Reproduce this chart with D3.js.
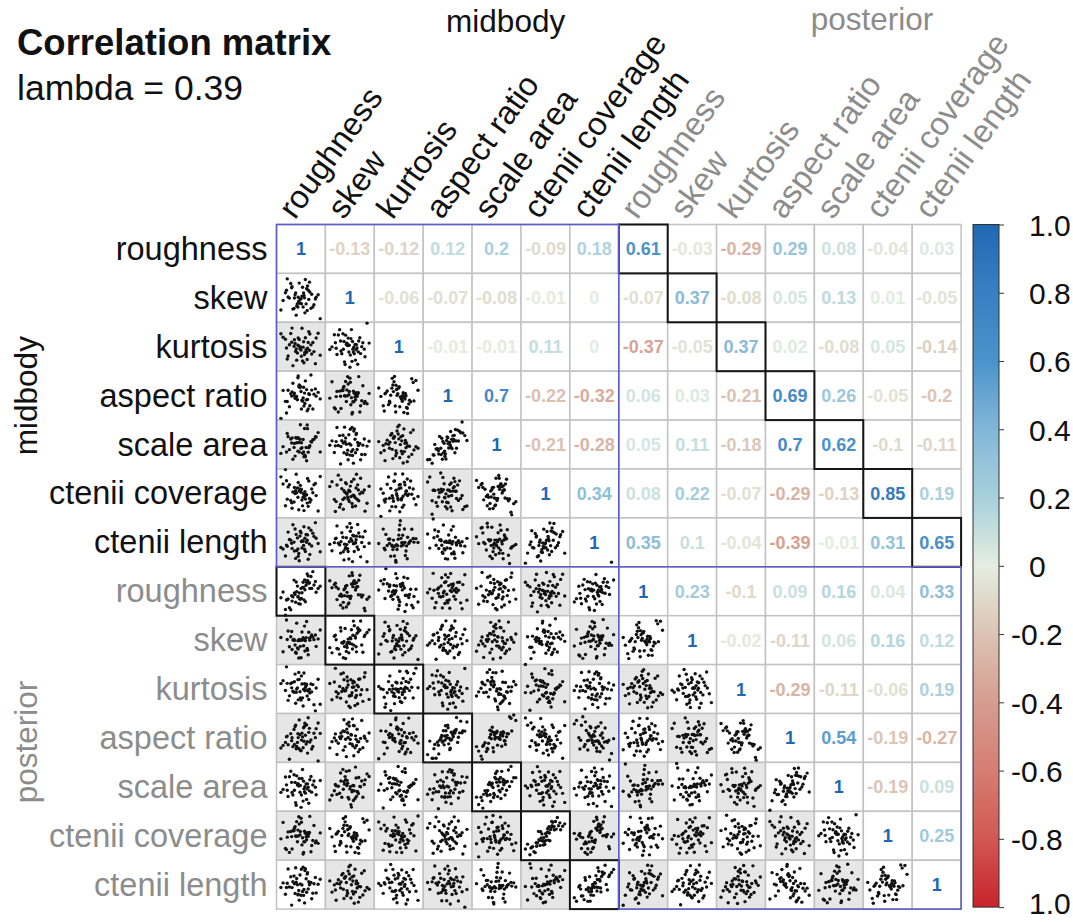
<!DOCTYPE html>
<html><head><meta charset="utf-8">
<script src="https://cdn.jsdelivr.net/npm/d3@7"></script>
<style>body{margin:0;background:#fff;} svg text{font-family:"Liberation Sans",Arial,Helvetica,sans-serif;}</style>
</head><body><svg id="chart" width="1073" height="922"></svg>
<script>
// ---------- data ----------
const variables = ["roughness","skew","kurtosis","aspect ratio","scale area","ctenii coverage","ctenii length"];
const groups = ["midbody","posterior"];
const title = "Correlation matrix";
const subtitle = "lambda = 0.39";
// upper triangle, row i starts at column i
const corrRow0  = [1,-0.13,-0.12,0.12,0.2,-0.09,0.18,0.61,-0.03,-0.29,0.29,0.08,-0.04,0.03];
const corrRow1  = [1,-0.06,-0.07,-0.08,-0.01,0,-0.07,0.37,-0.08,0.05,0.13,0.01,-0.05];
const corrRow2  = [1,-0.01,-0.01,0.11,0,-0.37,-0.05,0.37,0.02,-0.08,0.05,-0.14];
const corrRow3  = [1,0.7,-0.22,-0.32,0.06,0.03,-0.21,0.69,0.26,-0.05,-0.2];
const corrRow4  = [1,-0.21,-0.28,0.05,0.11,-0.18,0.7,0.62,-0.1,-0.11];
const corrRow5  = [1,0.34,0.08,0.22,-0.07,-0.29,-0.13,0.85,0.19];
const corrRow6  = [1,0.35,0.1,-0.04,-0.39,-0.01,0.31,0.65];
const corrRow7  = [1,0.23,-0.1,0.09,0.16,0.04,0.33];
const corrRow8  = [1,-0.02,-0.11,0.06,0.16,0.12];
const corrRow9  = [1,-0.29,-0.11,-0.06,0.19];
const corrRow10 = [1,0.54,-0.19,-0.27];
const corrRow11 = [1,-0.19,0.09];
const corrRow12 = [1,0.25];
const corrRow13 = [1];
const colorbarTicks  = [1,0.8,0.6,0.4,0.2,0,-0.2,-0.4,-0.6,-0.8,-1];
const colorbarLabels = ["1.0","0.8","0.6","0.4","0.2","0","-0.2","-0.4","-0.6","-0.8","1.0"];
const colorStops  = [-1,-0.8,-0.6,-0.4,-0.2,0,0.2,0.4,0.6,0.8,1];
const colorValues = ["#c8232b","#d25853","#d67d72","#d69d90","#dcc3b4","#e4eee0","#a8d0dc","#82b7d8","#4b93cc","#3a7fc2","#2068b2"];
// base point cloud (standardised observations) used for the scatter cells
const scatterU = [0.12,-1.35,0.78,-0.44,1.62,-0.05,0.91,-1.88,0.33,-0.72,1.15,-0.28,0.56,-1.07,2.05,-0.61,0.24,-0.93,1.39,-0.17,0.67,-1.52,0.02,0.48,-0.36,1.83,-0.84,0.39,-1.21,0.95,-0.09,0.61,-2.11,1.07,-0.55,0.18,-0.68,1.27,-1.44,0.84,-0.22,0.43,-0.97,1.54,-0.31,0.71,-1.63,0.06,0.29,-0.49];
const scatterV = [-0.81,0.44,1.23,-0.15,-0.62,1.71,0.09,-0.37,-1.45,0.88,0.31,-1.02,1.49,0.17,-0.58,0.65,-1.93,0.26,-0.21,1.06,-0.94,0.53,-0.12,1.95,-0.71,0.38,-1.28,0.72,0.04,-0.46,1.31,-1.66,0.21,-0.87,0.99,-0.33,1.58,-1.14,0.47,-0.03,2.12,-0.66,0.83,-1.37,0.14,-0.29,0.91,-0.55,1.18,-1.79];

// ---------- build ----------
const corrRows = [corrRow0,corrRow1,corrRow2,corrRow3,corrRow4,corrRow5,corrRow6,corrRow7,corrRow8,corrRow9,corrRow10,corrRow11,corrRow12,corrRow13];
const labels = groups.flatMap(g => variables.map(v => ({name:v, group:g})));
const K = labels.length;
const corr = d3.range(K).map(() => new Array(K).fill(0));
corrRows.forEach((row,i) => row.forEach((v,k) => { corr[i][i+k] = v; corr[i+k][i] = v; }));

const svg = d3.select("#chart");
const gridLeft = 276.5, gridTop = 224.5, cell = 48.9;
const idx = d3.range(K);
const x = d3.scaleBand().domain(idx).range([gridLeft, gridLeft + K*cell]);
const y = d3.scaleBand().domain(idx).range([gridTop, gridTop + K*cell]);
const color = d3.scaleLinear().domain(colorStops).range(colorValues);
const groupColor = g => g === "midbody" ? "#111" : "#8c8c8c";
const labelSize = 32.5;

// title
svg.append("text").attr("x",17).attr("y",55).attr("font-size",36.5).attr("font-weight","bold").attr("fill","#111").text(title);
svg.append("text").attr("x",17).attr("y",100).attr("font-size",35.5).attr("fill","#111").text(subtitle);

// cells
const cells = [];
idx.forEach(i => idx.forEach(j => cells.push({i,j})));
svg.append("g").selectAll("rect").data(cells).join("rect")
  .attr("x", d => x(d.j)).attr("y", d => y(d.i))
  .attr("width", x.bandwidth()).attr("height", y.bandwidth())
  .attr("fill", d => (d.i > d.j && (d.i + d.j) % 2 === 0) ? "#e6e6e6" : "#fff")
  .attr("stroke", "#c2c2c2").attr("stroke-width", 1.5);

// scatter cells (lower triangle): base cloud re-paired per cell, decorrelated,
// then mixed so that the cloud shows the cell's correlation value
const N = Math.min(scatterU.length, scatterV.length);
const gScatter = svg.append("g");
cells.filter(d => d.i > d.j).forEach(d => {
  const r = corr[d.i][d.j];
  const k = d.i * K + d.j;
  const a = d3.range(N).map(n => scatterU[(n + 3*k) % N]);
  let b = d3.range(N).map(n => scatterV[(n + 7*k + 11) % N]);
  const ma = d3.mean(a), mb = d3.mean(b);
  const ac = a.map(v => v - ma);
  let bc = b.map(v => v - mb);
  const beta = d3.sum(ac.map((v,n) => v*bc[n])) / d3.sum(ac.map(v => v*v));
  bc = bc.map((v,n) => v - beta*ac[n]);
  const sa = d3.deviation(ac), sb = d3.deviation(bc);
  const pts = ac.map((v,n) => {
    const za = v / sa, zb = bc[n] / sb;
    return [za, r*za + Math.sqrt(1 - r*r)*zb];
  });
  const sx = d3.scaleLinear().domain([-2.6, 2.6]).range([x(d.j), x(d.j) + x.bandwidth()]);
  const sy = d3.scaleLinear().domain([-2.6, 2.6]).range([y(d.i) + y.bandwidth(), y(d.i)]);
  gScatter.append("g").selectAll("circle").data(pts).join("circle")
    .attr("cx", p => sx(p[0])).attr("cy", p => sy(p[1])).attr("r", 1.7).attr("fill", "#111");
});

// numbers (upper triangle incl. diagonal)
svg.append("g").selectAll("text").data(cells.filter(d => d.j >= d.i)).join("text")
  .attr("x", d => x(d.j) + x.bandwidth()/2).attr("y", d => y(d.i) + y.bandwidth()/2 + 6.5)
  .attr("text-anchor","middle").attr("font-size",18).attr("font-weight","bold")
  .attr("fill", d => color(corr[d.i][d.j]))
  .text(d => String(corr[d.i][d.j]));

// black boxes: same variable, midbody vs posterior
const pairs = d3.range(7).flatMap(m => [{i:m, j:m+7},{i:m+7, j:m}]);
svg.append("g").selectAll("rect").data(pairs).join("rect")
  .attr("x", d => x(d.j)).attr("y", d => y(d.i))
  .attr("width", x.bandwidth()).attr("height", y.bandwidth())
  .attr("fill","none").attr("stroke","#151515").attr("stroke-width",2);

// blue frames for within-group blocks
svg.append("g").selectAll("rect").data([0,7]).join("rect")
  .attr("x", s => x(s)).attr("y", s => y(s))
  .attr("width", 7*cell).attr("height", 7*cell)
  .attr("fill","none").attr("stroke","#5a5ec6").attr("stroke-width",1.6);

// row labels
svg.append("g").selectAll("text").data(labels).join("text")
  .attr("x", gridLeft - 9).attr("y", (d,i) => y(i) + y.bandwidth()/2 + 11)
  .attr("text-anchor","end").attr("font-size",labelSize)
  .attr("fill", d => groupColor(d.group)).text(d => d.name);

// column labels
svg.append("g").selectAll("text").data(labels).join("text")
  .attr("transform", (d,i) => `translate(${x(i) + x.bandwidth()/2 - 6},${gridTop - 4}) rotate(-54)`)
  .attr("font-size",labelSize).attr("fill", d => groupColor(d.group)).text(d => d.name);

// group labels
svg.append("text").attr("x", x(0) + 3.5*cell + 58).attr("y", 32).attr("text-anchor","middle")
  .attr("font-size",31.5).attr("fill",groupColor("midbody")).text(groups[0]);
svg.append("text").attr("x", x(7) + 3.5*cell + 82).attr("y", 30).attr("text-anchor","middle")
  .attr("font-size",31.5).attr("fill",groupColor("posterior")).text(groups[1]);
svg.append("text").attr("transform", `translate(37,${y(0) + 3.5*cell}) rotate(-90)`).attr("text-anchor","middle")
  .attr("font-size",31.5).attr("fill",groupColor("midbody")).text(groups[0]);
svg.append("text").attr("transform", `translate(37,${y(7) + 3.5*cell + 4}) rotate(-90)`).attr("text-anchor","middle")
  .attr("font-size",31.5).attr("fill",groupColor("posterior")).text(groups[1]);

// colorbar
const cbX = 973, cbW = 26, cbTop = gridTop, cbBottom = gridTop + K*cell - 2;
const defs = svg.append("defs");
const grad = defs.append("linearGradient").attr("id","cbgrad").attr("x1",0).attr("y1",1).attr("x2",0).attr("y2",0);
grad.selectAll("stop").data(colorStops).join("stop")
  .attr("offset", d => (d + 1)/2).attr("stop-color", d => color(d));
svg.append("rect").attr("x",cbX).attr("y",cbTop).attr("width",cbW).attr("height",cbBottom-cbTop)
  .attr("fill","url(#cbgrad)").attr("stroke","#333").attr("stroke-width",1);
const cbScale = d3.scaleLinear().domain([-1,1]).range([cbBottom, cbTop]);
const cbAxis = svg.append("g").attr("transform",`translate(${cbX + cbW},0)`)
  .call(d3.axisRight(cbScale).tickValues(colorbarTicks).tickSize(5).tickFormat((d,i) => colorbarLabels[i]));
cbAxis.select(".domain").remove();
cbAxis.selectAll(".tick line").attr("stroke","#333");
cbAxis.selectAll(".tick text").attr("font-size",30).attr("fill","#111")
  .attr("font-family",'"Liberation Sans",Arial,sans-serif')
  .attr("x", d => d < 0 && d > -1 ? 12 : 30).attr("dy", d => d === -1 ? "0.2em" : "0.36em");
</script></body></html>
